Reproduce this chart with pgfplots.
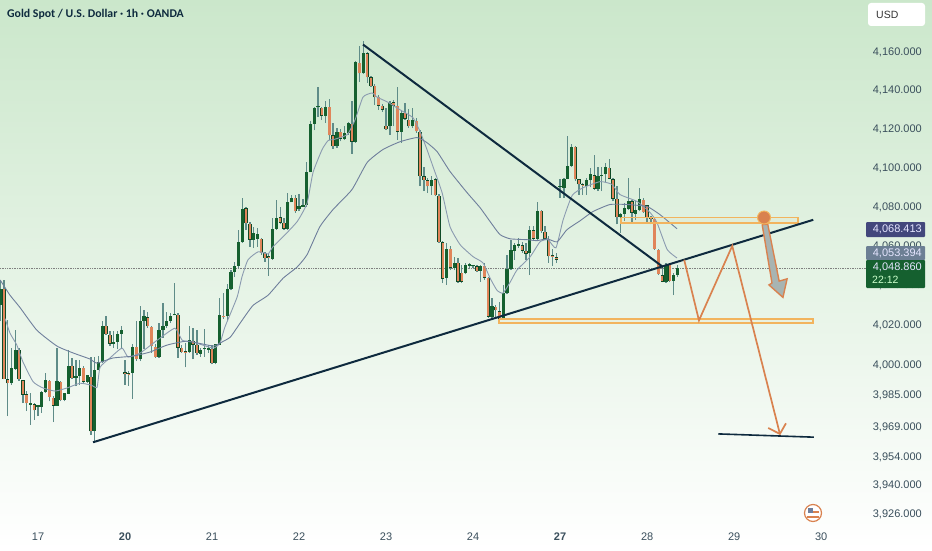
\documentclass[border=0pt]{standalone}
\usepackage{pgfplots}
\usepackage{pgfplotstable}
\usepackage{fontspec}
\setmainfont{Liberation Sans}
\newfontfamily\titlefont{Carlito}
\pgfplotsset{compat=1.18}
\definecolor{upc}{HTML}{15602F}
\definecolor{upd}{HTML}{0F4A26}
\definecolor{dnc}{HTML}{E0855A}
\definecolor{wickc}{HTML}{5F8C88}
\definecolor{navy}{HTML}{0E2A3E}
\definecolor{orgl}{HTML}{D9824F}
\definecolor{zone}{HTML}{F2B45E}
\definecolor{maf}{HTML}{8B9BB0}
\definecolor{mas}{HTML}{6F7F9C}
\definecolor{txt}{HTML}{3A4F5C}
\definecolor{bgtop}{HTML}{CBE7CB}
\definecolor{arrowg}{HTML}{A8B4B2}
\definecolor{boxa}{HTML}{43477C}
\definecolor{boxb}{HTML}{6C7F94}
\pgfkeys{/pgfplots/table/price/.style={/pgfplots/table/x=n, /pgfplots/table/y expr={1000*ln(\thisrow{p}/4000)}}}
% hourly candles: n = bar number (bar 0 opens the 17th)
\pgfplotstableread{
n o h l c
-10 4030.3 4042.8 4022.0 4038.6
-9 4038.6 4042.8 3992.8 3993.1
-8 3992.8 4022.8 3974.5 3990.8
-7 3990.8 4008.6 3990.3 3998.3
-6 3998.3 4017.8 3997.8 4007.8
-5 4007.8 4008.6 3992.3 3992.8
-4 3992.5 3992.8 3981.1 3985.3
-3 3985.3 3987.0 3977.0 3980.8
-2 3980.3 3986.1 3970.3 3980.6
-1 3980.3 3981.1 3972.8 3977.3
0 3979.1 3980.3 3974.5 3979.8
1 3979.1 3987.0 3976.1 3986.6
2 3986.6 3996.1 3986.1 3992.5
3 3992.3 3992.8 3981.9 3984.1
4 3983.8 3984.5 3971.5 3979.8
5 3979.8 4008.6 3979.5 3992.0
6 3991.6 3992.0 3981.9 3982.5
7 3982.5 3986.3 3981.9 3985.8
8 3985.8 4007.8 3985.5 3999.8
9 3999.8 4003.6 3992.8 3993.6
10 3993.6 4002.8 3989.5 3994.8
11 3994.8 4002.8 3990.3 3998.6
12 3998.6 3999.5 3991.1 3991.6
13 3991.6 3995.3 3991.1 3994.8
14 3994.1 4004.1 3965.3 3967.0
15 3967.0 4004.1 3961.1 3997.8
16 3997.8 4004.5 3997.8 4001.6
17 4001.6 4022.0 4001.1 4019.8
18 4019.8 4024.5 4015.3 4015.6
19 4015.3 4017.0 4009.5 4010.8
20 4010.8 4017.0 4008.6 4011.8
21 4011.8 4017.0 4007.8 4015.8
22 4015.8 4019.5 4007.8 4017.8
23 3995.8 4002.8 3990.3 3995.5
24 3995.5 3997.0 3989.8 3995.3
25 3996.1 4010.3 3983.1 4009.1
26 4009.1 4022.0 4002.0 4002.8
27 4002.8 4029.5 4002.0 4022.3
28 4022.3 4027.8 4007.8 4024.5
29 4024.1 4027.0 4018.6 4019.5
30 4019.1 4019.5 4006.1 4009.5
31 4009.1 4010.3 4003.6 4004.1
32 4004.1 4021.1 4003.6 4017.8
33 4017.8 4031.1 4013.6 4019.5
34 4019.5 4027.0 4018.6 4022.0
35 4022.0 4026.1 4021.1 4024.8
36 4025.0 4041.1 4025.0 4025.6
37 4025.3 4026.1 4003.6 4008.6
38 4008.6 4010.3 4006.1 4006.5
39 4006.5 4011.1 3999.0 4006.1
40 4006.5 4019.8 4006.1 4012.5
41 4012.3 4018.6 4002.8 4010.3
42 4010.3 4017.8 4005.3 4006.1
43 4005.8 4008.6 4004.1 4007.8
44 4007.8 4018.1 4004.1 4008.0
45 4007.7 4009.8 4006.1 4007.9
46 4008.1 4010.3 4000.3 4000.8
47 4001.1 4010.8 4000.3 4010.3
48 4010.3 4033.6 4010.3 4025.3
49 4025.0 4036.5 4023.3 4024.0
50 4024.5 4041.1 4022.8 4038.3
51 4038.3 4047.8 4037.8 4047.0
52 4047.0 4052.1 4044.4 4050.0
53 4050.0 4068.5 4049.0 4062.0
54 4062.0 4084.9 4061.8 4079.3
55 4079.3 4080.3 4068.5 4071.6
56 4071.6 4072.6 4059.8 4063.4
57 4063.4 4070.0 4059.3 4066.5
58 4063.9 4069.5 4059.8 4066.5
59 4063.9 4064.4 4055.7 4056.7
60 4056.7 4057.2 4052.1 4054.1
61 4054.2 4056.7 4044.9 4054.0
62 4053.6 4074.7 4053.1 4069.0
63 4069.0 4083.9 4068.5 4074.7
64 4074.7 4079.8 4071.1 4072.1
65 4072.1 4074.7 4068.5 4069.0
66 4069.0 4087.5 4068.5 4082.4
67 4082.4 4086.5 4082.4 4084.9
68 4084.9 4086.5 4077.2 4077.8
69 4078.8 4086.5 4077.8 4080.8
70 4080.3 4083.9 4080.3 4081.3
71 4081.0 4103.4 4080.3 4097.9
72 4097.9 4124.6 4097.9 4122.9
73 4122.9 4131.6 4119.5 4131.1
74 4131.3 4141.9 4126.5 4131.5
75 4131.1 4131.6 4124.9 4127.0
76 4127.0 4134.8 4123.4 4131.6
77 4131.6 4135.7 4114.3 4116.9
78 4116.9 4123.4 4110.1 4111.2
79 4111.2 4120.8 4110.5 4118.8
80 4118.8 4120.3 4113.8 4115.2
81 4115.2 4122.0 4114.7 4118.3
82 4118.3 4124.0 4117.2 4123.4
83 4122.9 4134.8 4107.5 4113.7
84 4113.7 4155.7 4113.2 4154.8
85 4154.7 4163.4 4144.6 4149.0
86 4149.0 4166.0 4148.5 4159.5
87 4159.5 4160.0 4143.9 4147.0
88 4147.0 4147.5 4142.0 4142.5
89 4142.5 4143.1 4132.6 4136.7
90 4136.7 4137.8 4130.1 4132.1
91 4132.1 4133.1 4129.2 4130.1
92 4121.9 4131.1 4119.8 4120.2
93 4121.9 4134.8 4117.2 4133.8
94 4133.8 4135.2 4121.5 4132.1
95 4132.1 4141.9 4114.7 4118.8
96 4118.8 4130.1 4113.1 4128.7
97 4128.7 4133.7 4124.9 4125.4
98 4124.9 4130.6 4120.8 4121.5
99 4121.5 4131.1 4120.8 4124.6
100 4124.4 4126.0 4118.4 4118.9
101 4118.9 4119.8 4090.7 4095.9
102 4095.9 4100.3 4088.2 4093.8
103 4093.8 4095.2 4087.5 4090.6
104 4090.6 4095.9 4086.5 4093.8
105 4094.2 4095.2 4085.6 4086.1
106 4085.9 4086.9 4061.8 4062.2
107 4062.0 4062.5 4041.3 4043.7
108 4043.9 4061.8 4040.3 4058.8
109 4058.8 4060.0 4048.0 4049.2
110 4049.2 4054.8 4048.0 4051.7
111 4051.6 4054.1 4041.5 4042.0
112 4046.6 4050.6 4041.3 4042.0
113 4046.4 4051.6 4045.9 4050.6
114 4050.2 4051.7 4049.0 4050.4
115 4049.9 4050.6 4048.9 4050.2
116 4050.0 4050.6 4047.1 4047.5
117 4047.5 4050.6 4042.0 4050.0
118 4050.0 4051.6 4042.9 4044.0
119 4044.0 4044.6 4023.9 4024.4
120 4024.4 4034.1 4023.4 4029.5
121 4029.2 4030.5 4024.0 4027.5
122 4027.1 4031.7 4022.3 4023.4
123 4023.4 4040.3 4022.9 4036.2
124 4036.2 4055.7 4035.7 4048.5
125 4048.5 4063.4 4048.0 4058.3
126 4057.9 4061.8 4053.1 4060.5
127 4060.4 4064.4 4059.3 4060.6
128 4060.5 4062.5 4056.7 4057.9
129 4057.9 4061.8 4053.1 4056.2
130 4056.7 4070.2 4045.4 4068.2
131 4068.2 4070.2 4063.4 4063.9
132 4063.9 4082.5 4062.5 4077.9
133 4077.9 4078.8 4067.0 4067.6
134 4067.5 4070.6 4063.4 4063.9
135 4063.9 4065.1 4051.7 4054.8
136 4054.9 4058.8 4050.0 4054.7
137 4054.3 4056.7 4051.7 4053.1
138 4090.1 4094.2 4084.9 4090.3
139 4089.9 4095.2 4084.9 4094.5
140 4094.5 4116.7 4094.2 4101.3
141 4101.3 4112.6 4100.8 4110.9
142 4110.9 4111.2 4093.3 4094.2
143 4094.2 4094.7 4086.5 4091.6
144 4091.3 4092.6 4086.5 4091.1
145 4090.7 4095.2 4086.5 4093.6
146 4093.6 4100.3 4090.1 4096.7
147 4096.4 4107.0 4089.0 4089.4
148 4089.4 4100.3 4088.2 4095.9
149 4095.9 4100.3 4088.2 4096.7
150 4096.7 4102.9 4092.6 4100.3
151 4100.3 4104.9 4094.2 4094.5
152 4094.2 4095.2 4083.0 4084.3
153 4084.3 4090.7 4071.1 4075.0
154 4074.8 4077.2 4067.0 4076.7
155 4076.7 4082.4 4072.8 4079.3
156 4078.8 4094.7 4078.4 4083.0
157 4083.0 4083.9 4072.1 4077.1
158 4076.7 4083.0 4073.6 4078.4
159 4078.4 4090.0 4077.9 4083.9
160 4083.9 4084.9 4077.1 4077.4
161 4080.8 4081.3 4072.1 4074.8
162 4074.2 4075.3 4071.1 4074.0
163 4074.0 4074.5 4058.3 4058.6
164 4058.3 4058.8 4045.4 4045.8
165 4045.4 4049.7 4041.7 4042.0
166 4042.0 4051.4 4041.5 4050.6
167 4050.6 4051.4 4041.7 4042.3
168 4042.3 4046.3 4035.2 4045.4
169 4045.4 4050.6 4044.6 4049.2
}\candles
\pgfplotstableread{
n p
-8.7 4023.4
-7.4 4016.0
-5.6 4010.0
-4.0 4001.6
-1.3 3991.6
1.3 3988.6
4.5 3987.0
7.7 3988.6
11.1 3991.0
14.0 3990.0
15.6 3989.0
16.4 3999.0
19.0 4003.5
22.2 4008.5
23.8 4004.0
27.0 4006.0
31.5 4012.5
36.2 4018.5
38.1 4012.5
41.0 4011.5
46.3 4008.5
48.1 4011.0
49.4 4019.0
52.6 4034.1
53.9 4044.4
55.5 4053.1
58.2 4057.2
60.8 4056.2
62.1 4059.8
64.8 4064.9
68.5 4072.6
71.1 4081.9
72.7 4097.8
75.1 4109.5
76.7 4114.2
78.0 4114.7
81.7 4117.2
83.8 4124.9
85.9 4136.7
88.3 4138.8
89.6 4136.7
92.3 4134.2
95.7 4130.1
99.1 4126.0
101.0 4118.8
102.8 4109.5
104.4 4100.8
106.8 4087.5
108.9 4070.0
111.6 4060.8
115.0 4054.7
117.6 4051.6
119.5 4043.9
121.3 4037.7
122.9 4036.2
124.8 4041.8
126.6 4048.0
130.1 4054.7
132.7 4062.4
134.8 4063.4
136.9 4059.3
138.8 4073.6
141.2 4086.0
144.1 4090.0
148.6 4093.1
151.7 4091.6
153.8 4086.5
158.3 4082.9
161.8 4077.2
163.6 4072.1
166.3 4058.3
168.9 4054.1
}\fastma
\pgfplotstableread{
n p
-10.0 4042.9
-7.4 4035.2
-4.8 4029.0
-0.3 4017.5
5.0 4009.5
9.3 4006.0
13.7 4003.0
15.6 4001.0
19.8 4003.5
25.1 4004.5
29.6 4006.5
34.1 4010.0
39.4 4012.0
46.3 4009.5
48.1 4011.0
50.8 4014.0
53.4 4021.0
56.8 4030.0
60.8 4035.2
64.8 4043.9
68.5 4049.5
71.1 4055.7
74.5 4070.0
78.0 4078.8
83.0 4089.0
87.0 4102.9
91.2 4109.5
95.7 4113.7
100.2 4115.7
102.8 4113.1
105.5 4108.5
108.9 4098.3
113.4 4087.5
116.8 4079.8
119.5 4072.6
122.1 4066.0
124.8 4063.9
129.3 4063.4
131.9 4062.9
134.6 4063.9
137.2 4062.3
139.8 4068.5
143.3 4073.1
146.7 4077.7
151.2 4081.3
155.7 4081.3
161.0 4080.3
164.4 4076.2
168.9 4069.0
}\slowma
\begin{document}
\begin{tikzpicture}
\begin{axis}[
  name=ax, anchor=south west, at={(0,0)},
  width=932pt, height=550pt, scale only axis,
  xmin=-10.05, xmax=236.3, ymin=-23.19, ymax=45.74,
  axis background/.style={top color=bgtop, bottom color=white},
  axis line style={draw=none}, tick style={draw=none},
  xtick={0,23,46,69,92,115,138,161,184,207},
  xticklabels={17,\textbf{20},21,22,23,24,\textbf{27},28,29,30},
  xticklabel style={anchor=center, yshift=13pt, font=\fontsize{11}{13}\selectfont, text=txt},
  % y axis is 1000*ln(price/4000): the chart's log price scale
  ytick={39.22,34.40,29.56,24.69,19.80,14.89,9.95,4.99,0,-3.76,-7.78,-11.57,-15.11,-18.67},
  yticklabels={{4,160.000},{4,140.000},{4,120.000},{4,100.000},{4,080.000},{4,060.000},{4,040.000},{4,020.000},{4,000.000},{3,985.000},{3,969.000},{3,954.000},{3,940.000},{3,926.000}},
  yticklabel pos=right,
  yticklabel style={anchor=east, xshift=-10pt, font=\fontsize{11}{13}\selectfont, text=txt},
  tick label style={inner sep=0pt},
  clip=true,
]
% last price line
\addplot[densely dotted, color=black!50, line width=0.7pt, forget plot] table[price, row sep=\\] {n p\\ -10.05 4048.86\\ 218.9 4048.86\\};
% wicks
\addplot[draw=none, forget plot, error bars/.cd, y dir=plus, y explicit, error mark=none,
  error bar style={color=wickc, line width=1.3pt}]
  table[x=n, y expr={1000*ln(\thisrow{l}/4000)}, y error plus expr={1000*ln(\thisrow{h}/\thisrow{l})}] {\candles};
% up bodies
\addplot[draw=none, forget plot, error bars/.cd, y dir=plus, y explicit, error mark=none,
  error bar style={color=upc, line width=3.3pt}]
  table[x expr={ifthenelse(\thisrow{c}>=\thisrow{o},\thisrow{n},nan)}, y expr={1000*ln(\thisrow{o}/4000)}, y error plus expr={max(1000*ln(\thisrow{c}/\thisrow{o}),0.2)}] {\candles};
% down bodies: dark edge then fill
\addplot[draw=none, forget plot, error bars/.cd, y dir=plus, y explicit, error mark=none,
  error bar style={color=upd, line width=3.3pt}]
  table[x expr={ifthenelse(\thisrow{c}<\thisrow{o},\thisrow{n},nan)}, y expr={1000*ln(\thisrow{c}/4000)}, y error plus expr={max(1000*ln(\thisrow{o}/\thisrow{c}),0.2)}] {\candles};
\addplot[draw=none, forget plot, error bars/.cd, y dir=plus, y explicit, error mark=none,
  error bar style={color=dnc, line width=2.4pt}]
  table[x expr={ifthenelse(\thisrow{c}<\thisrow{o},\thisrow{n},nan)}, y expr={1000*ln(\thisrow{c}/4000)+0.05}, y error plus expr={max(1000*ln(\thisrow{o}/\thisrow{c})-0.1,0.05)}] {\candles};
% moving averages
\addplot[color=maf, line width=0.9pt, smooth, tension=0.3, forget plot] table[price] {\fastma};
\addplot[color=mas, line width=0.9pt, smooth, tension=0.3, forget plot] table[price] {\slowma};
% zones
\addplot[draw=zone, line width=1.7pt, fill=zone, fill opacity=0.05, forget plot] table[price, row sep=\\] {n p\\ 121.9 4023.1\\ 204.9 4023.1\\ 204.9 4021.1\\ 121.9 4021.1\\ 121.9 4023.1\\};
\addplot[draw=zone, line width=1.7pt, fill=zone, fill opacity=0.05, forget plot] table[price, row sep=\\] {n p\\ 154.1 4074.7\\ 200.9 4074.7\\ 200.9 4071.6\\ 154.1 4071.6\\ 154.1 4074.7\\};
% trend lines
\addplot[color=navy, line width=2pt, forget plot] table[price, row sep=\\] {n p\\ 14.54 3961.6\\ 204.9 4073.6\\};
\addplot[color=navy, line width=2pt, forget plot] table[price, row sep=\\] {n p\\ 85.9 4164\\ 165.2 4049.5\\};
\addplot[color=navy, line width=1.6pt, forget plot] table[price, row sep=\\] {n p\\ 179.8 3965.6\\ 205.1 3964.1\\};
% projected path
\addplot[color=orgl, line width=1.7pt, forget plot] table[price, row sep=\\] {n p\\ 170.8 4053.1\\ 174.7 4022.5\\ 183.5 4060.3\\ 196.1 3965.6\\};
\addplot[color=orgl, line width=1.7pt, forget plot] table[price, row sep=\\] {n p\\ 193 3968.6\\ 196.1 3965.6\\ 197.7 3971\\};
% grey arrow
\addplot[draw=orgl, line width=1.4pt, fill=arrowg, forget plot] table[price, row sep=\\] {n p\\ 191.4 4071.1\\ 194 4041.3\\ 193.2 4040.3\\ 196.9 4034.1\\ 198 4043.4\\ 195.9 4042.3\\ 192.9 4071.1\\ 191.4 4071.1\\};
\addplot[only marks, mark=*, mark size=6.5pt, mark options={fill=orgl, draw=zone, line width=1pt}, forget plot] table[price, row sep=\\] {n p\\ 191.9 4074.7\\};
\end{axis}
% title and scale panels
\node[anchor=west, text=navy, font=\titlefont\bfseries\fontsize{11.8}{14}\selectfont, inner sep=0pt] at (7pt,550pt-14pt) {Gold Spot / U.S. Dollar · 1h · OANDA};
\fill[white, rounded corners=3pt] (868pt,550pt-3pt) rectangle (925pt,550pt-26pt);
\node[anchor=west, text=black!80, font=\fontsize{10.5}{12}\selectfont, inner sep=0pt] at (876pt,550pt-15pt) {USD};
\fill[fill=boxa, rounded corners=1pt] (866pt,550pt-222pt) rectangle (925pt,550pt-237pt);
\node[anchor=east, text=white!90!blue, font=\fontsize{11}{13}\selectfont, inner sep=0pt] at (922pt,550pt-229.5pt) {4,068.413};
\fill[fill=boxb, rounded corners=1pt] (866pt,550pt-246pt) rectangle (925pt,550pt-260pt);
\node[anchor=east, text=white!90!blue, font=\fontsize{11}{13}\selectfont, inner sep=0pt] at (922pt,550pt-253pt) {4,053.394};
\fill[fill=upc, rounded corners=1pt] (866pt,550pt-260pt) rectangle (925pt,550pt-288pt);
\node[anchor=east, text=white!90!blue, font=\fontsize{11}{13}\selectfont, inner sep=0pt] at (922pt,550pt-267pt) {4,048.860};
\node[anchor=west, text=white!80!green, font=\fontsize{10.5}{12}\selectfont, inner sep=0pt] at (872pt,550pt-280pt) {22:12};
% currency icon
\draw[orgl, line width=1.2pt, fill=white] (813pt,550pt-513pt) circle (8.5pt);
\fill[mas] (808pt,550pt-513pt) rectangle (813pt,550pt-508pt);
\fill[orgl] (813pt,550pt-513pt) rectangle (819pt,550pt-511pt);
\fill[orgl] (807pt,550pt-516pt) rectangle (819pt,550pt-518pt);
\end{tikzpicture}
\end{document}
